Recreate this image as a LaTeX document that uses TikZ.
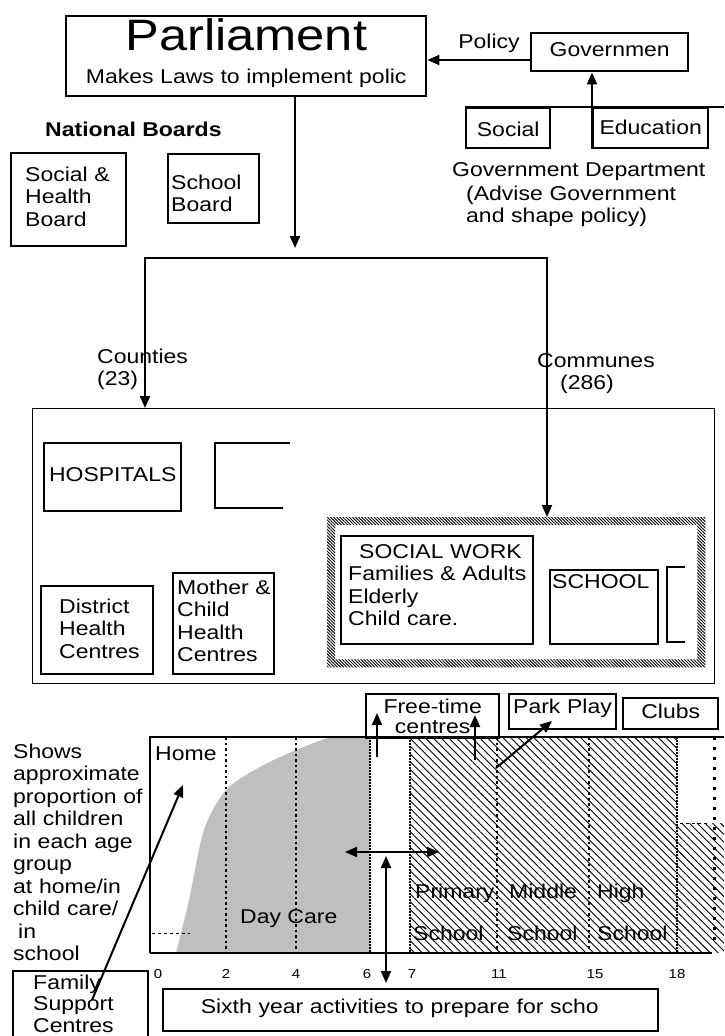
\documentclass[tikz,border=0pt]{standalone}
\usepackage{fontspec}
\setmainfont{Liberation Sans}[FakeStretch=1.15]
\usetikzlibrary{arrows.meta, patterns.meta}
\tikzset{
    >={Triangle[length=12pt, width=10pt]},
    box/.style={draw, line width=2.4pt, inner sep=0pt, anchor=north west, align=left},
    txt/.style={inner sep=0pt, anchor=base west, align=left},
    link/.style={->, line width=2pt},
    dotline/.style={line width=2.6pt, dash pattern=on 2.5pt off 3pt},
    thindot/.style={line width=1.2pt, dash pattern=on 1.5pt off 1.5pt},
    hatch/.style={pattern={Lines[angle=-45, distance=5.5pt, line width=0.9pt]}},
    rim/.style={pattern={Lines[angle=-45, distance=2.2pt, line width=0.9pt]}, even odd rule}
}

\begin{document}
\fontsize{20}{22.5}\selectfont
\begin{tikzpicture}[x=1pt, y=-1pt]
    \useasboundingbox (0,0) rectangle (724,1036);

    % government and parliament
    \node (parl) [box, align=center, text width=360pt, text height=34pt, text depth=46pt] at (65,15)
        {{\fontsize{44}{44}\selectfont Parliament}\\[10.5pt]Makes Laws to implement polic};
    \node (gov) [box, align=center, text width=157pt, text height=23pt, text depth=15pt] at (530,32) {Governmen};
    \node (social) [box, align=center, text width=84pt, text height=28pt, text depth=12pt] at (465,107) {Social};
    \node (edu) [box, align=center, text width=115pt, text height=26pt, text depth=14pt] at (592,107) {Education};
    \node (dept) [txt] at (452,176) {Government Department};
    \node (advise) [txt, text width=260pt] at (466,200) {(Advise Government\\and shape policy)};
    \coordinate (deptend) at (724,107);
    \coordinate (policy) at (530,60);

    \draw[line width=2pt] (social.north west) -- (deptend);
    \draw[link] (edu.south west) -- (gov.south -| edu.south west);
    \draw[link] (policy) -- (parl.east |- policy) node (policytext) [pos=0.4, above=6pt, inner sep=0pt] {Policy};

    % national boards
    \node (natb) [txt, font=\bfseries] at (45,136) {National Boards};
    \node (shb) [box, text width=87pt, inner xsep=14pt, text height=28pt, text depth=65pt] at (10,152) {Social \&\\Health\\Board};
    \node (sb) [box, text width=85pt, inner xsep=3pt, text height=35pt, text depth=34pt] at (167,153) {School\\Board};

    % counties and communes
    \node (region) [draw, line width=1.2pt, inner sep=0pt, anchor=north west, minimum width=682pt, minimum height=275pt] at (32,408) {};
    \node (hosp) [box, align=center, text width=137pt, text height=38pt, text depth=30pt] at (43,442) {HOSPITALS};
    \draw[line width=2.4pt] (290,443) -| (215,508) -- (283,508);
    \node (dhc) [box, text width=76pt, inner xsep=18pt, text height=27pt, text depth=61pt] at (40,585) {District\\Health\\Centres};
    \node (mchc) [box, text width=93pt, inner xsep=4pt, text height=21pt, text depth=80pt] at (172,572) {Mother~\&\\Child\\Health\\Centres};
    \node (commune) [inner sep=0pt, anchor=north west, minimum width=378pt, minimum height=150pt] at (327,517) {};
    \fill[rim] (commune.north west) rectangle (commune.south east)
        ([shift={(8,8)}]commune.north west) rectangle ([shift={(-8,-8)}]commune.south east);
    \node (sw) [box, text width=178pt, inner xsep=7pt, text height=22pt, text depth=86pt] at (340,535)
        {\hspace*{11pt}SOCIAL~WORK\\Families~\&~Adults\\Elderly\\Child care.};
    \node (school) [box, text width=104pt, inner xsep=2pt, text height=18pt, text depth=56pt] at (549,569) {SCHOOL};
    \draw[line width=2.4pt] (685,567) -| (667,642) -- (685,642);

    \coordinate (split) at (295,248);
    \coordinate (cty) at (145,258);
    \coordinate (cmn) at (547,258);
    \draw[link] (parl.south -| split) -- (split);
    \draw[link, <->] (region.north -| cty) -- (cty) -- (cmn) -- (commune.north -| cmn);
    \node (counties) [txt, text width=100pt] at (97,363) {Counties\\(23)};
    \node (communes) [txt, text width=100pt] at (537,367) {Communes\\\hspace*{23pt}(286)};

    % age chart
    \fill[black!25] plot[smooth] coordinates {(176,953) (189,900) (204,830) (226,790) (260,767) (296,750) (330,737)}
        -- (370,737) -- (370,953) -- cycle;
    \fill[hatch] (410,737) rectangle (677,953) (677,823) rectangle (724,953);
    \draw[line width=0.6pt, dashed] (152,933) -- (190,933) (680,823) -- (708,823);
    \draw[line width=2pt] (150,953) -- (150,737) -- (724,737) (150,953) -- (712,953);
    \foreach \x in {226,296,497,589} \draw[dotline] (\x,737) -- (\x,953);
    \foreach \x in {370,410,677} \draw[thindot] (\x,737) -- (\x,953);
    \draw[line width=3pt, dash pattern=on 3pt off 7pt] (714,737) -- (714,947);
    \foreach \x/\a in {158/0, 226/2, 296/4, 367/6, 412/7, 499/11, 595/15, 677/18}
        \node (age\a) [inner sep=0pt, anchor=base, font=\fontsize{13}{15}\selectfont] at (\x,978) {\a};

    \node (home) [txt] at (155,760) {Home};
    \node (daycare) [txt] at (240,923) {Day Care};
    \node (primary) [txt] at (415,898) {Primary};
    \node (middle) [txt] at (509,898) {Middle};
    \node (high) [txt] at (597,898) {High};
    \node (school1) [txt] at (413,940) {School};
    \node (school2) [txt] at (507,940) {School};
    \node (school3) [txt] at (597,940) {School};
    \node (shows) [txt, text width=135pt] at (13,758)
        {Shows\\approximate\\proportion of\\all children\\in each age\\group\\at home/in\\child care/\\\hspace*{5pt}in\\school};

    % activities round the chart
    \node (freetime) [box, align=center, text width=133pt, text height=19pt, text depth=25pt] at (365,693) {Free-time\\[-2pt]centres};
    \node (park) [box, text width=99pt, inner xsep=4pt, text height=19pt, text depth=16pt] at (508,693) {Park~Play};
    \node (clubs) [box, align=center, text width=95pt, text height=20pt, text depth=11pt] at (622,697) {Clubs};
    \node (family) [box, text width=95pt, inner xsep=20pt, text height=18pt, text depth=50pt] at (12,970)
        {Family\\[-1pt]Support\\[-1pt]Centres};
    \node (sixth) [box, line width=1.6pt, text width=419pt, inner xsep=38pt, text height=25pt, text depth=17pt] at (162,988)
        {Sixth year activities to prepare for scho};

    \coordinate (ftA) at (377,757);
    \coordinate (ftAtip) at (377,713);
    \coordinate (ftB) at (475,760);
    \coordinate (ftBtip) at (475,715);
    \coordinate (ppA) at (496,768);
    \coordinate (pptip) at (552,721);
    \coordinate (dc) at (345,852);
    \coordinate (ps) at (439,852);
    \coordinate (gap) at (386,856);
    \coordinate (gapend) at (386,983);
    \coordinate (fam) at (92,1000);
    \coordinate (hometip) at (183,785);

    \draw[link] (ftA) -- (ftAtip);
    \draw[link] (ftB) -- (ftBtip);
    \draw[link] (ppA) -- (pptip);
    \draw[link, <->] (dc) -- (ps);
    \draw[link, <->] (gap) -- (gapend);
    \draw[link] (fam) -- (hometip);
\end{tikzpicture}
\end{document}
